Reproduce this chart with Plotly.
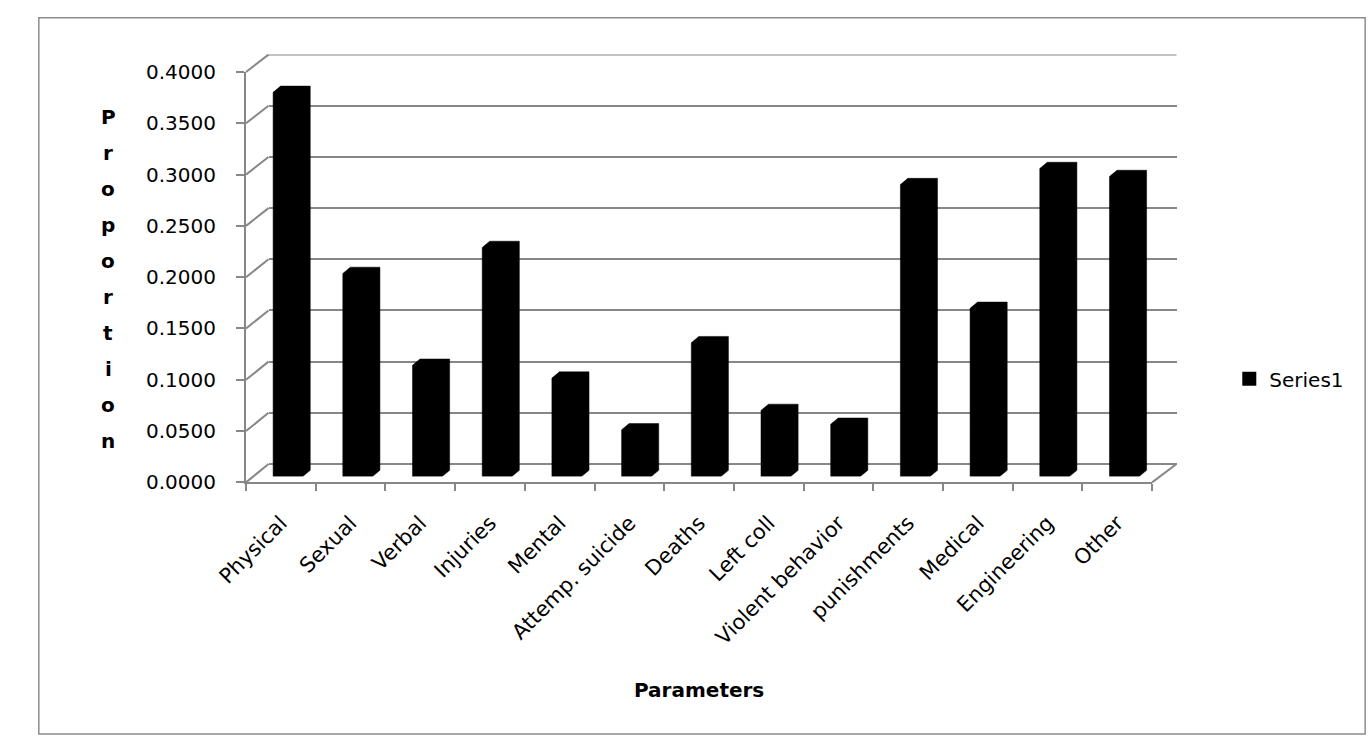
import plotly.graph_objects as go

categories = ["Physical", "Sexual", "Verbal", "Injuries", "Mental", "Attemp. suicide",
              "Deaths", "Left coll", "Violent behavior", "punishments", "Medical",
              "Engineering", "Other"]
values = [0.3745, 0.1980, 0.1085, 0.2233, 0.0960, 0.0456, 0.1305, 0.0645, 0.0510,
          0.2846, 0.1640, 0.3003, 0.2925]
series_name = "Series1"
tick_values = [0.0, 0.05, 0.10, 0.15, 0.20, 0.25, 0.30, 0.35, 0.40]
y_title_letters = list("Proportion")
x_title = "Parameters"

W, H = 1372, 747
FONT = "DejaVu Sans"
GRID = "#878787"


def px(x):
    return x / W


def py(y):
    return 1 - y / H


# geometry (pixels)
FRONT_L, FRONT_R, FRONT_B, FRONT_T = 220, 1147, 486, 62
BACK_L, BACK_R, BACK_B, BACK_T = 243, 1172, 467, 44
BAR_L, BAR_R, BAR_B, BAR_T = 227.2, 1154.2, 480, 56

bar_w = 0.425
bar_dx = 0.108
bar_dy = 0.0061

poly_x, poly_y = [], []
for i, v in enumerate(values):
    x0, x1 = i - bar_w / 2, i + bar_w / 2
    poly_x += [x0, x0, x0 + bar_dx, x1 + bar_dx, x1 + bar_dx, x1, x0, None]
    poly_y += [0, v, v + bar_dy, v + bar_dy, bar_dy, 0, 0, None]

fig = go.Figure()

# back wall (gridlines) subplot
fig.add_trace(go.Scatter(x=[0], y=[None], xaxis="x", yaxis="y", mode="markers",
                         marker=dict(opacity=0), showlegend=False, hoverinfo="skip"))
# front axis labels subplot
fig.add_trace(go.Scatter(x=categories, y=[None] * len(categories), xaxis="x2", yaxis="y2",
                         mode="markers", marker=dict(opacity=0), showlegend=False,
                         hoverinfo="skip"))
# bars
fig.add_trace(go.Scatter(x=poly_x, y=poly_y, xaxis="x3", yaxis="y3", mode="lines",
                         fill="toself", fillcolor="black", line=dict(color="black", width=0.5),
                         showlegend=False, hoverinfo="skip"))
# legend entry
fig.add_trace(go.Scatter(x=[None], y=[None], xaxis="x3", yaxis="y3", mode="markers",
                         marker=dict(symbol="square", size=14, color="black"),
                         name=series_name))

shapes = []
# side-wall diagonals linking front ticks with back wall gridlines
for v in tick_values:
    yf = FRONT_B - v / 0.4 * (FRONT_B - FRONT_T)
    yb = BACK_B - v / 0.4 * (BACK_B - BACK_T)
    shapes.append(dict(type="line", xref="paper", yref="paper",
                       x0=px(FRONT_L), y0=py(yf), x1=px(BACK_L), y1=py(yb),
                       line=dict(color=GRID, width=2), layer="below"))
# top back-wall gridline
shapes.append(dict(type="line", xref="x domain", yref="y", x0=0, x1=1,
                   y0=tick_values[-1], y1=tick_values[-1],
                   line=dict(color=GRID, width=2), layer="below"))
# floor right diagonal
shapes.append(dict(type="line", xref="paper", yref="paper",
                   x0=px(FRONT_R), y0=py(FRONT_B), x1=px(BACK_R), y1=py(BACK_B),
                   line=dict(color=GRID, width=2), layer="below"))
# outer border
shapes.append(dict(type="rect", xref="paper", yref="paper",
                   x0=px(8), y0=py(746), x1=px(1365), y1=py(6),
                   line=dict(color="#8c8c8c", width=1.5), layer="below"))

annotations = []
letter_top, letter_step = 108, 37.2
for k, ch in enumerate(y_title_letters):
    annotations.append(dict(text="<b>%s</b>" % ch, xref="paper", yref="paper",
                            x=px(79), y=py(letter_top + k * letter_step),
                            xanchor="center", yanchor="middle", showarrow=False,
                            font=dict(family=FONT, size=20, color="black")))
annotations.append(dict(text="<b>%s</b>" % x_title, xref="paper", yref="paper",
                        x=px(683), y=py(700), xanchor="center", yanchor="middle",
                        showarrow=False, font=dict(family=FONT, size=20, color="black")))

fig.update_layout(
    width=W, height=H,
    margin=dict(l=0, r=0, t=0, b=0),
    paper_bgcolor="white", plot_bgcolor="rgba(0,0,0,0)",
    font=dict(family=FONT, size=20, color="black"),
    showlegend=True,
    legend=dict(x=px(1226), y=py(379), xanchor="left", yanchor="middle",
                font=dict(family=FONT, size=20, color="black"),
                bgcolor="rgba(0,0,0,0)", itemwidth=30),
    xaxis=dict(domain=[px(BACK_L), px(BACK_R)], range=[0, 1], visible=False,
               fixedrange=True),
    yaxis=dict(domain=[py(BACK_B), py(BACK_T)], range=[0, 0.4], anchor="x",
               showgrid=True, gridcolor=GRID, gridwidth=2, dtick=0.05,
               zeroline=True, zerolinecolor=GRID, zerolinewidth=2,
               showticklabels=False, ticks="", showline=False),
    xaxis2=dict(domain=[px(FRONT_L), px(FRONT_R)], anchor="y2", type="category",
                categoryorder="array", categoryarray=categories,
                range=[-0.5, len(categories) - 0.5],
                showline=True, linecolor=GRID, linewidth=2,
                ticks="outside", tickson="boundaries", ticklen=7, tickcolor=GRID,
                tickwidth=2, tickangle=-45, showgrid=False, zeroline=False,
                ticklabelstandoff=18,
                tickfont=dict(family=FONT, size=21, color="black")),
    yaxis2=dict(domain=[py(FRONT_B), py(FRONT_T)], anchor="x2", range=[0, 0.4],
                tickvals=tick_values, tickformat=".4f",
                showline=True, linecolor=GRID, linewidth=2,
                ticks="outside", ticklen=8, tickcolor=GRID, tickwidth=2,
                ticklabelstandoff=16, showgrid=False, zeroline=False,
                tickfont=dict(family=FONT, size=20, color="black")),
    xaxis3=dict(domain=[px(BAR_L), px(BAR_R)], anchor="y3", range=[-0.5, len(values) - 0.5],
                visible=False),
    yaxis3=dict(domain=[py(BAR_B), py(BAR_T)], anchor="x3", range=[0, 0.4], visible=False),
    shapes=shapes,
    annotations=annotations,
)

fig.write_html("out.html")
